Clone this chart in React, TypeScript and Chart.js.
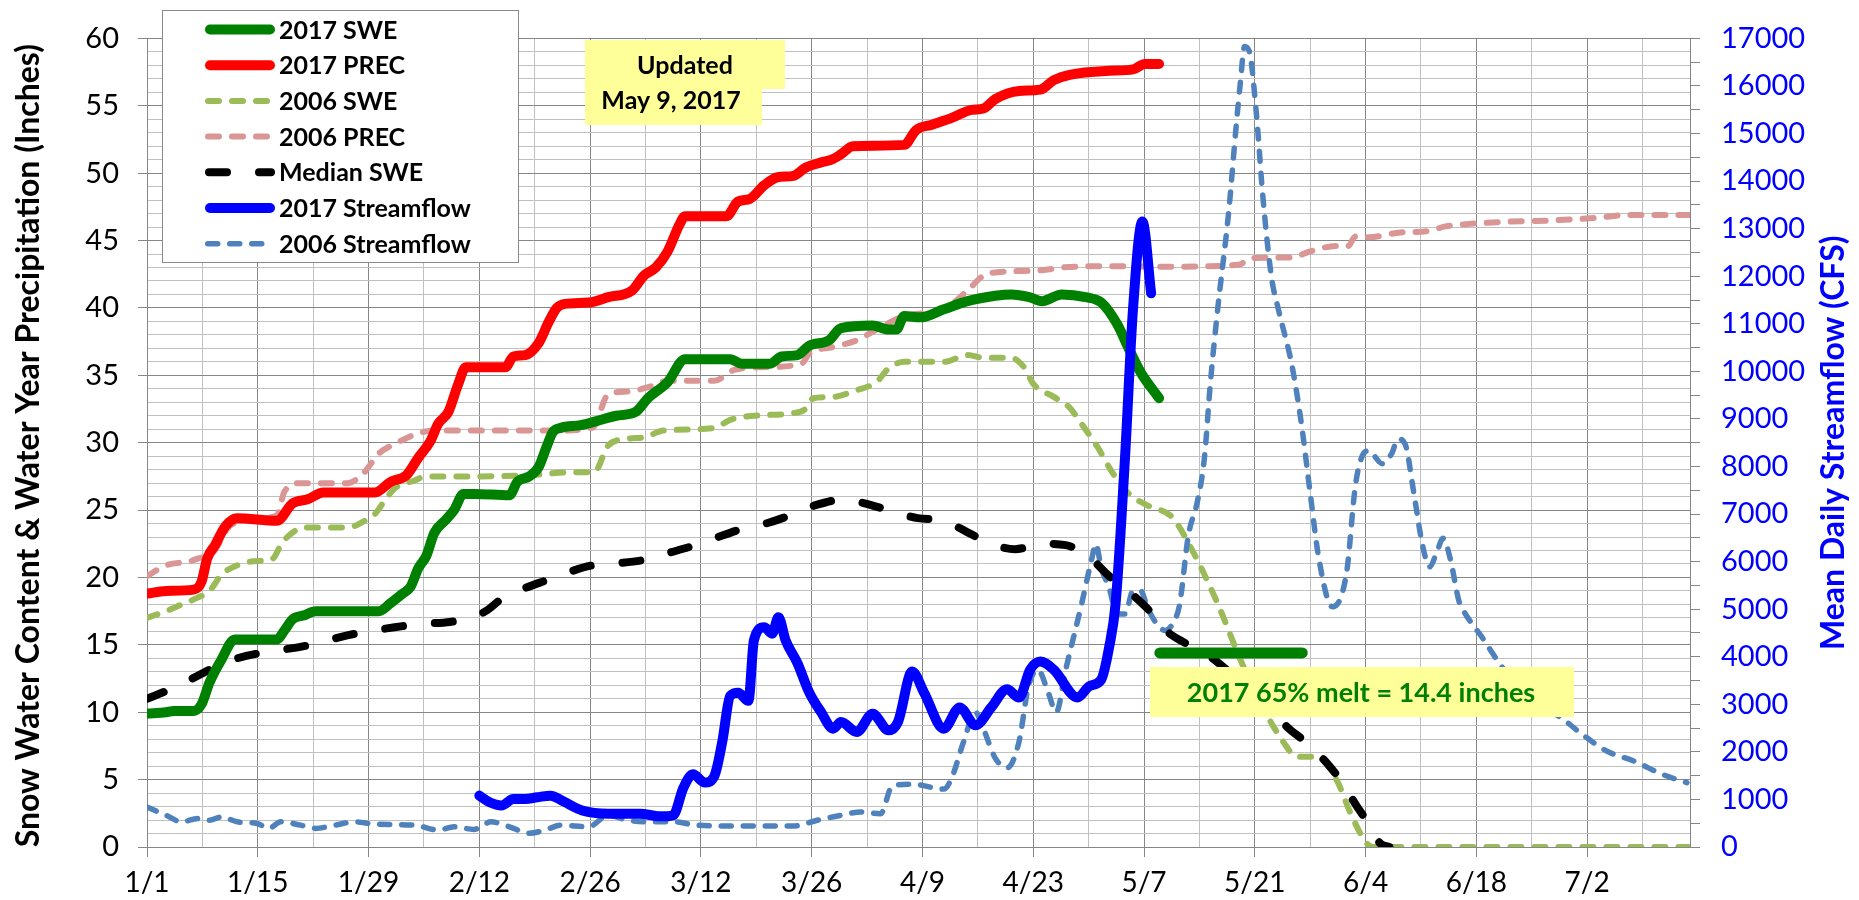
import React, { useEffect, useRef } from 'react';
import { Chart, registerables } from 'chart.js';

Chart.register(...registerables);

// ---------- axis labels ----------
const X_TICK_LABELS = ['1/1', '1/15', '1/29', '2/12', '2/26', '3/12', '3/26', '4/9', '4/23', '5/7', '5/21', '6/4', '6/18', '7/2'];
const X_MIN_DAY = 0;
const X_MAX_DAY = 195; // days after Jan 1 (about 7/15)
const LEFT_MAX = 60;
const RIGHT_MAX = 17000;

const LEFT_TITLE = 'Snow Water Content & Water Year Precipitation (Inches)';
const RIGHT_TITLE = 'Mean Daily Streamflow (CFS)';
const UPDATED_LINES = ['Updated', 'May 9, 2017'];
const MELT_TEXT = '2017 65% melt = 14.4 inches';

type Pt = [number, number]; // [day since Jan 1, value]

// ---------- series (inches, left axis) ----------
const SWE_2017: Pt[] = [
  [0, 9.9], [2.4, 10.0], [3.4, 10.1], [5.9, 10.1], [6.9, 10.6], [7.9, 12.2], [9.4, 13.9], [11.1, 15.4],
  [16.4, 15.4], [17.4, 16.1], [18.4, 16.9], [19.9, 17.2], [21.3, 17.5], [29.3, 17.5], [30.8, 18.1],
  [32.3, 18.8], [33.3, 19.3], [34.3, 20.7], [35.3, 21.6], [36.3, 23.3], [37.8, 24.3], [38.8, 25.0],
  [40.0, 26.2], [41.3, 26.2], [45.8, 26.1], [46.8, 27.1], [48.3, 27.5], [49.5, 28.2], [50.5, 29.7],
  [51.3, 30.8], [52.3, 31.1], [54.8, 31.3], [56.8, 31.6], [59.3, 32.0], [61.8, 32.3], [63.3, 33.3],
  [65.8, 34.5], [68.0, 36.2], [73.7, 36.2], [75.2, 35.85], [78.7, 35.85], [80.2, 36.4], [82.2, 36.5],
  [83.7, 37.2], [86.2, 37.6], [87.7, 38.5], [91.7, 38.7], [93.7, 38.4], [94.7, 38.4], [95.7, 39.4],
  [97.7, 39.3], [100.7, 39.9], [103.7, 40.5], [107.2, 40.9], [109.2, 41.0], [111.5, 40.8], [113.1, 40.5],
  [115.6, 41.0], [118.6, 40.8], [120.6, 40.4], [122.6, 38.8], [124.1, 36.95], [125.6, 35.2], [127.9, 33.3],
];

const PREC_2017: Pt[] = [
  [0, 18.8], [2.4, 19.0], [5.9, 19.1], [6.9, 19.7], [7.6, 21.4], [8.6, 22.4], [9.9, 23.8], [11.4, 24.4],
  [16.4, 24.2], [18.4, 25.5], [20.3, 25.8], [22.3, 26.3], [28.8, 26.3], [30.8, 27.1], [32.8, 27.6],
  [34.3, 28.9], [35.8, 30.1], [36.8, 31.4], [38.1, 32.3], [39.3, 34.3], [40.3, 35.6], [45.3, 35.6],
  [46.3, 36.4], [47.8, 36.5], [49.5, 37.4], [50.8, 39.0], [51.8, 40.0], [52.8, 40.3], [55.8, 40.4],
  [58.3, 40.8], [61.3, 41.3], [62.8, 42.4], [64.3, 43.0], [65.8, 44.2], [67.3, 46.2], [68.0, 46.8],
  [73.2, 46.8], [74.7, 47.9], [76.2, 48.1], [78.0, 49.1], [79.7, 49.7], [81.7, 49.8], [83.2, 50.4],
  [85.2, 50.8], [86.5, 51.0], [87.7, 51.4], [89.2, 52.0], [95.7, 52.1], [97.2, 53.2], [99.2, 53.6],
  [101.7, 54.1], [104.2, 54.7], [105.7, 54.8], [107.2, 55.5], [110.2, 56.1], [112.9, 56.2], [114.6, 56.9],
  [116.6, 57.3], [121.6, 57.6], [124.6, 57.7], [126.1, 58.1], [127.9, 58.1],
];

const SWE_2006: Pt[] = [
  [0, 17.0], [2.4, 17.5], [4.4, 18.0], [6.4, 18.5], [7.9, 19.0], [9.4, 20.2], [11.4, 20.9], [13.4, 21.2],
  [15.9, 21.4], [16.9, 22.4], [17.9, 23.1], [19.9, 23.7], [25.3, 23.7], [27.8, 24.3], [28.8, 24.7],
  [29.8, 25.5], [31.3, 26.6], [33.8, 27.2], [35.3, 27.5], [41.3, 27.5], [48.8, 27.6], [53.3, 27.8],
  [56.5, 27.8], [58.3, 29.8], [60.8, 30.3], [62.8, 30.4], [65.3, 30.9], [71.7, 31.1], [73.7, 31.7],
  [76.7, 32.0], [81.7, 32.2], [83.2, 32.5], [84.2, 33.3], [86.7, 33.4], [89.7, 33.9], [92.2, 34.5],
  [93.7, 35.5], [95.7, 36.0], [100.7, 36.0], [103.7, 36.5], [105.7, 36.3], [109.2, 36.3], [110.7, 35.7],
  [112.1, 34.3], [114.6, 33.4], [116.6, 32.6], [118.1, 31.4], [120.1, 29.7], [122.1, 27.7], [124.1, 26.2],
  [126.6, 25.3], [129.5, 24.5], [132.2, 21.9], [135.2, 18.2], [138.4, 13.6], [140.7, 10.7], [143.6, 7.8],
  [145.3, 6.7], [148.1, 6.7], [150.4, 4.9], [152.1, 2.5], [154.1, 0.3], [155, 0], [195, 0],
];

const PREC_2006: Pt[] = [
  [0, 20.1], [2.4, 20.9], [5.4, 21.2], [6.4, 21.4], [8.4, 21.9], [10.4, 23.8], [11.9, 24.1], [13.9, 24.4],
  [16.4, 24.6], [17.4, 26.4], [19.4, 27.0], [25.3, 27.0], [27.3, 27.7], [29.3, 29.2], [31.3, 29.9],
  [34.3, 30.7], [36.3, 30.9], [51.3, 30.9], [56.3, 31.1], [58.3, 33.6], [60.8, 33.8], [63.8, 34.2],
  [65.8, 34.6], [71.7, 34.6], [74.2, 35.4], [77.7, 35.6], [82.7, 35.85], [83.7, 36.6], [86.7, 37.1],
  [89.7, 37.6], [92.2, 38.4], [95.7, 39.4], [100.7, 39.9], [103.7, 41.3], [105.7, 42.4], [106.7, 42.6],
  [113.1, 42.8], [115.6, 43.0], [120.6, 43.1], [128.2, 43.06], [137.9, 43.2], [139.6, 43.7], [144.7, 43.75],
  [147, 44.2], [150.4, 44.6], [151.8, 44.6], [152.7, 45.3], [154.4, 45.25], [158.4, 45.6], [161.8, 45.7],
  [164.1, 46.05], [166.4, 46.2], [172.1, 46.4], [177.8, 46.5], [183.5, 46.7], [186.9, 46.9], [195, 46.9],
];

const MEDIAN_SWE: Pt[] = [
  [0, 11.0], [2.9, 11.7], [5.9, 12.55], [8.4, 13.3], [11.4, 14.0], [15.4, 14.5], [19.4, 14.85], [21.3, 15.1],
  [25.3, 15.7], [28.3, 16.05], [31.3, 16.3], [34.3, 16.55], [38.3, 16.7], [40.8, 17.0], [42.8, 17.5],
  [44.8, 18.4], [47.3, 19.1], [51.0, 19.9], [53.3, 20.4], [56.3, 20.9], [59.3, 21.05], [62.8, 21.3],
  [65.8, 21.8], [69.3, 22.4], [71.7, 22.9], [75.2, 23.6], [78.2, 24.0], [81.7, 24.7], [84.7, 25.4],
  [88.2, 25.8], [90.7, 25.5], [94.2, 24.9], [97.4, 24.4], [100.7, 24.2], [103.7, 23.35], [106.7, 22.5],
  [109.7, 22.1], [113.1, 22.5], [116.1, 22.4], [119.1, 21.5], [121.6, 20.1], [124.6, 18.7], [126.5, 17.65],
  [128.7, 16.1], [131.3, 15.1], [134.4, 14.1], [137.9, 12.4], [141.3, 10.7], [144.1, 8.9], [146.4, 7.8],
  [149.3, 6.1], [151, 4.8], [152.7, 3.2], [154.4, 1.7], [155.8, 0.3], [157, 0],
];

const MELT_65_2017: Pt[] = [[128, 14.4], [146, 14.4]];

// ---------- series (cfs, right axis) ----------
const FLOW_2017: Pt[] = [
  [42, 1080], [43.3, 940], [44.8, 872], [46.3, 1010], [47.8, 1010], [49.3, 1045], [51, 1080], [52.6, 960],
  [55, 768], [58.3, 700], [62.3, 700], [64.8, 645], [66.5, 667], [67.8, 1250], [69, 1527], [70.5, 1355],
  [71.7, 1491], [72.7, 2212], [73.7, 3176], [74.7, 3245], [76, 3074], [76.7, 4347], [78, 4621], [79, 4484],
  [79.8, 4828], [80.7, 4347], [82.2, 3865], [83.7, 3245], [85.2, 2833], [86.7, 2488], [87.7, 2626],
  [89.7, 2420], [91.7, 2799], [93.7, 2454], [94.9, 2626], [96.7, 3692], [98.2, 3245], [100.7, 2488],
  [102.7, 2935], [104.7, 2558], [106.7, 2935], [108.7, 3315], [110.2, 3142], [111.6, 3726], [112.9, 3899],
  [114.6, 3726], [117.6, 3142], [119.1, 3383], [120.6, 3522], [121.6, 4208], [122.4, 5100], [123.6, 8190],
  [124.6, 11290], [125.8, 13150], [126.9, 11640],
];

const FLOW_2006: Pt[] = [
  [0, 839], [2.4, 667], [4.4, 529], [6.4, 597], [7.9, 563], [9.4, 632], [11.4, 529], [13.9, 494],
  [15.4, 391], [16.9, 529], [19.4, 460], [21.3, 391], [23.8, 460], [26.3, 529], [28.8, 480], [33.8, 460],
  [36.8, 356], [38.8, 425], [41.3, 370], [43.5, 529], [45.8, 425], [48.3, 289], [50.3, 356], [52.3, 460],
  [55.8, 425], [58.3, 667], [60.8, 563], [63.8, 529], [66.8, 529], [69.3, 460], [75.7, 440], [81.7, 440],
  [84.7, 563], [87.7, 667], [90.2, 735], [92.7, 700], [94.2, 1286], [96.7, 1321], [100.7, 1217],
  [101.7, 1456], [103.2, 2212], [104.7, 2833], [105.7, 2488], [107.2, 1870], [108.7, 1663], [110.2, 2212],
  [111.4, 3383], [112.6, 3726], [113.9, 3245], [114.9, 2833], [116.1, 3726], [117.1, 4414], [118.1, 5100],
  [119.4, 6060], [119.9, 6370], [120.6, 5870], [121.6, 5440], [122.6, 4896], [123.6, 4896], [124.6, 5380],
  [125.6, 5380], [126.5, 5000], [128.7, 4553], [129.6, 4690], [130.5, 5100], [131.6, 6548], [132.7, 7230],
  [133.6, 8130], [134.4, 9780], [135.3, 11290], [136.7, 13350], [137.6, 15070], [138.2, 16110],
  [138.7, 16830], [139.3, 16730], [140.2, 15420], [141, 13710], [142.1, 11990], [143, 11290], [144.7, 10120],
  [145.9, 8885], [147, 7440], [148.1, 6060], [149.8, 5050], [151.6, 5770], [152.7, 7580], [153.5, 8190],
  [154.4, 8330], [156.1, 8060], [157.3, 8270], [158.1, 8580], [159, 8470], [160.1, 7440], [161.2, 6340],
  [162.1, 5890], [163, 6200], [163.8, 6490], [164.7, 6060], [165.8, 5170], [166.4, 4960], [168.7, 4414],
  [171.5, 3726], [175, 3108], [178.9, 2695], [181.5, 2352], [184.6, 2007], [188, 1801], [191.5, 1527],
  [194.6, 1355],
];

const LEGEND_ORDER = ['2017 SWE', '2017 PREC', '2006 SWE', '2006 PREC', 'Median SWE', '2017 Streamflow', '2006 Streamflow'];

// ---------- styles ----------
const FONT = 'Lato, "Open Sans", sans-serif';
const GRID_MAJOR = '#868686';
const GRID_MINOR = '#c0c0c0';
const NOTE_YELLOW = '#ffff99';

const toXY = (arr: Pt[]) => arr.map(([x, y]) => ({ x, y }));

const overlayPlugin = {
  id: 'overlay',
  afterDatasetsDraw(chart: any) {
    const ctx: CanvasRenderingContext2D = chart.ctx;
    ctx.save();

    // "Updated" note
    ctx.fillStyle = NOTE_YELLOW;
    ctx.fillRect(585, 40, 200, 49);
    ctx.fillRect(585, 89, 177, 36);
    ctx.fillStyle = '#000';
    ctx.font = `bold 25px ${FONT}`;
    ctx.textAlign = 'center';
    ctx.textBaseline = 'middle';
    ctx.fillText(UPDATED_LINES[0], 685, 66);
    ctx.fillText(UPDATED_LINES[1], 671, 101);

    // melt note
    ctx.fillStyle = NOTE_YELLOW;
    ctx.fillRect(1150, 667, 424, 50);
    ctx.fillStyle = '#008000';
    ctx.font = `bold 27px ${FONT}`;
    ctx.fillText(MELT_TEXT, 1361, 693);

    // legend
    const lx = 162.5, ly = 10.5, lw = 356, lh = 252;
    ctx.fillStyle = '#ffffff';
    ctx.fillRect(lx, ly, lw, lh);
    ctx.strokeStyle = '#8a8a8a';
    ctx.lineWidth = 1;
    ctx.strokeRect(lx, ly, lw, lh);
    LEGEND_ORDER.forEach((label, i) => {
      const ds = chart.data.datasets.find((d: any) => d.label === label);
      if (!ds) return;
      const y = 29.5 + i * 35.7;
      const w = ds.borderWidth;
      ctx.beginPath();
      ctx.setLineDash(ds.borderDash || []);
      ctx.lineDashOffset = 0;
      ctx.lineCap = 'round';
      ctx.strokeStyle = ds.borderColor;
      ctx.lineWidth = w;
      ctx.moveTo(205 + w / 2, y);
      ctx.lineTo(275 - w / 2, y);
      ctx.stroke();
      ctx.setLineDash([]);
      ctx.fillStyle = '#000';
      ctx.font = `bold 25px ${FONT}`;
      ctx.textAlign = 'left';
      ctx.textBaseline = 'middle';
      ctx.fillText(label, 279, y + 1);
    });
    ctx.restore();
  },
  afterDraw(chart: any) {
    const ctx: CanvasRenderingContext2D = chart.ctx;
    const area = chart.chartArea;
    const midY = (area.top + area.bottom) / 2;
    ctx.save();
    ctx.textAlign = 'center';
    ctx.textBaseline = 'middle';
    ctx.font = `bold 32px ${FONT}`;
    ctx.fillStyle = '#000';
    ctx.translate(29, midY + 3);
    ctx.rotate(-Math.PI / 2);
    ctx.fillText(LEFT_TITLE, 0, 0);
    ctx.restore();

    ctx.save();
    ctx.textAlign = 'center';
    ctx.textBaseline = 'middle';
    ctx.font = `bold 32px ${FONT}`;
    ctx.fillStyle = '#0000ff';
    ctx.translate(1834, midY);
    ctx.rotate(-Math.PI / 2);
    ctx.fillText(RIGHT_TITLE, 0, 0);
    ctx.restore();
  },
};

function lineDs(label: string, data: Pt[], color: string, width: number, axis: string, order: number, dash?: number[]) {
  return {
    label,
    data: toXY(data),
    borderColor: color,
    backgroundColor: color,
    borderWidth: width,
    borderDash: dash || [],
    borderCapStyle: 'round' as const,
    borderJoinStyle: 'round' as const,
    pointRadius: 0,
    pointHoverRadius: 0,
    cubicInterpolationMode: 'monotone' as const,
    fill: false,
    yAxisID: axis,
    order,
  };
}

export default function App() {
  const ref = useRef<HTMLCanvasElement>(null);

  useEffect(() => {
    document.body.style.margin = '0';
    let chart: Chart | null = null;
    let cancelled = false;
    const fontsApi: any = (document as any).fonts;
    const ready = fontsApi
      ? Promise.all([fontsApi.load('25px Lato'), fontsApi.load('bold 25px Lato')]).catch(() => null)
      : Promise.resolve(null);

    ready.then(() => {
      if (cancelled || !ref.current) return;
      chart = new Chart(ref.current, {
        type: 'line',
        data: {
          datasets: [
            lineDs('2017 65% melt', MELT_65_2017, '#008000', 11, 'y', 0),
            lineDs('2017 Streamflow', FLOW_2017, '#0000ff', 10, 'y1', 1),
            lineDs('2017 SWE', SWE_2017, '#008000', 10, 'y', 2),
            lineDs('2017 PREC', PREC_2017, '#ff0000', 10, 'y', 3),
            lineDs('Median SWE', MEDIAN_SWE, '#000000', 8, 'y', 4, [18, 32]),
            lineDs('2006 Streamflow', FLOW_2006, '#4f81bd', 5.5, 'y1', 5, [10, 12]),
            lineDs('2006 SWE', SWE_2006, '#9bbb59', 6, 'y', 6, [11, 13]),
            lineDs('2006 PREC', PREC_2006, '#d99694', 6, 'y', 7, [11, 13]),
          ] as any,
        },
        options: {
          responsive: false,
          animation: false,
          devicePixelRatio: 1,
          layout: { padding: { top: 23, left: 0, right: 0, bottom: 0 } },
          plugins: {
            legend: { display: false },
            tooltip: { enabled: false },
          },
          events: [],
          scales: {
            x: {
              type: 'linear',
              position: 'bottom',
              min: X_MIN_DAY,
              max: X_MAX_DAY,
              bounds: 'data',
              afterFit: (s: any) => { s.height = 53; },
              ticks: {
                stepSize: 7,
                includeBounds: false,
                autoSkip: false,
                maxRotation: 0,
                minRotation: 0,
                padding: 9,
                color: '#000',
                font: { family: FONT, size: 28 },
                callback: (v: any) => {
                  const n = Number(v);
                  return n % 14 === 0 ? (X_TICK_LABELS[n / 14] ?? '') : '';
                },
              },
              grid: {
                color: (c: any) => (c.tick && c.tick.value % 14 === 0 ? GRID_MAJOR : GRID_MINOR),
                tickColor: (c: any) => (c.tick && c.tick.value % 14 === 0 ? GRID_MAJOR : 'rgba(0,0,0,0)'),
                tickLength: 10,
                lineWidth: 1,
              },
              border: { color: GRID_MAJOR, width: 1 },
            },
            y: {
              type: 'linear',
              position: 'left',
              min: 0,
              max: LEFT_MAX,
              afterFit: (s: any) => { s.width = 147; },
              ticks: {
                stepSize: 1,
                autoSkip: false,
                padding: 19,
                color: '#000',
                font: { family: FONT, size: 29 },
                callback: (v: any) => (Number(v) % 5 === 0 ? String(v) : ''),
              },
              grid: {
                color: (c: any) => (c.tick && c.tick.value % 5 === 0 ? GRID_MAJOR : GRID_MINOR),
                tickColor: (c: any) => (c.tick && c.tick.value % 5 === 0 ? GRID_MAJOR : 'rgba(0,0,0,0)'),
                tickLength: 9,
                lineWidth: 1,
              },
              border: { color: GRID_MAJOR, width: 1 },
            },
            y1: {
              type: 'linear',
              position: 'right',
              min: 0,
              max: RIGHT_MAX,
              afterFit: (s: any) => { s.width = 169; },
              ticks: {
                stepSize: 500,
                autoSkip: false,
                padding: 21,
                color: '#0000ff',
                font: { family: FONT, size: 29 },
                callback: (v: any) => (Number(v) % 1000 === 0 ? String(v) : ''),
              },
              grid: {
                drawOnChartArea: false,
                color: GRID_MAJOR,
                tickColor: GRID_MAJOR,
                tickLength: 10,
              },
              border: { color: GRID_MAJOR, width: 1 },
            },
          },
        } as any,
        plugins: [overlayPlugin],
      });
    });

    return () => {
      cancelled = true;
      if (chart) chart.destroy();
    };
  }, []);

  return (
    <canvas
      ref={ref}
      width={1859}
      height={900}
      style={{ display: 'block', width: '1859px', height: '900px' }}
    />
  );
}
